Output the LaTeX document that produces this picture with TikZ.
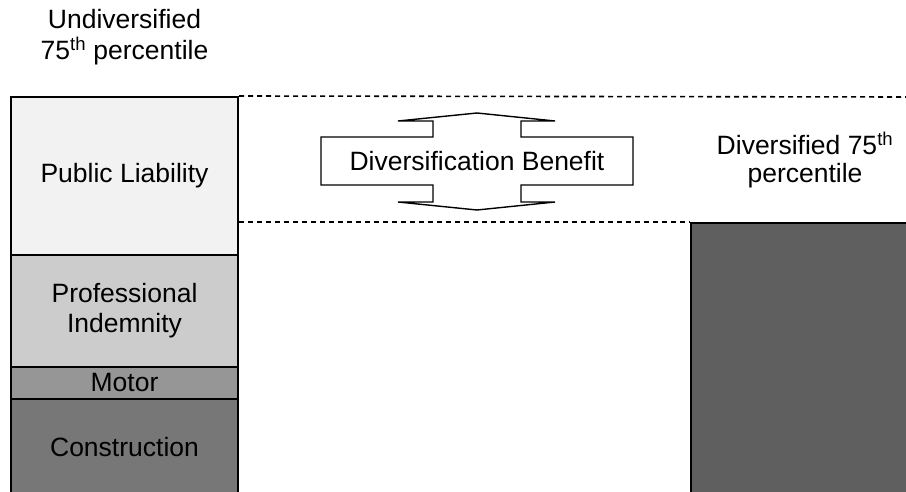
\documentclass[tikz,border=0pt]{standalone}
\usepackage{fontspec}
\setmainfont{Liberation Sans}
\begin{document}
\begin{tikzpicture}[x=1pt,y=-1pt,
  txt/.style={font=\fontsize{26.5}{30}\selectfont, inner sep=0pt},
  seg/.style={draw=black, line width=2pt, minimum width=227pt, inner sep=0pt, align=center,
              font=\fontsize{26.5}{30}\selectfont},
  guide/.style={line width=1.6pt, dash pattern=on 5pt off 4pt},
  benefit/.style={draw=black, fill=white, line width=1.4pt, line join=miter}]
\definecolor{plc}{HTML}{F2F2F2}
\definecolor{pic}{HTML}{CCCCCC}
\definecolor{moc}{HTML}{969696}
\definecolor{coc}{HTML}{777777}
\definecolor{dic}{HTML}{5F5F5F}
\clip (0,0) rectangle (906,492);
\useasboundingbox (0,0) rectangle (906,492);
\fill[white] (0,0) rectangle (906,492);

% left stacked bar
\node[seg, fill=plc, minimum height=158pt] (pl) at (124.5,176) {Public Liability};
\node[seg, fill=pic, minimum height=112pt] (pi) at (124.5,311) {Professional\\Indemnity};
\node[seg, fill=moc, minimum height=32pt] (mo) at (124.5,383) {Motor};
\node[seg, fill=coc, minimum height=96pt] (co) at (124.5,447) {Construction};

% right bar
\node[draw=black, fill=dic, line width=2pt, minimum width=219pt, minimum height=272pt, inner sep=0pt] (di) at (800.5,359) {};

% titles
\node[txt, anchor=base] (t1) at (124.5,29) {Undiversified};
\node[txt, anchor=base] (t2) at (124.5,60) {75\textsuperscript{th} percentile};
\node[txt, anchor=base] (t3) at (805,155) {Diversified 75\textsuperscript{th}};
\node[txt, anchor=base] (t4) at (805,183) {percentile};

% dashed guides
\coordinate (topend) at (906,97);
\coordinate (lowstart) at (pl.east |- di.north);
\draw[guide] (pl.north east) -- (topend);
\draw[guide] (lowstart) -- (di.north west);

% diversification benefit double arrow
\draw[benefit] (321,137) -- (433,137) -- (433,121) -- (398,121) -- (477,113) -- (555,121)
  -- (521,121) -- (521,137) -- (633,137) -- (633,185) -- (521,185) -- (521,202)
  -- (555,202) -- (477,210) -- (398,202) -- (433,202) -- (433,185) -- (321,185) -- cycle;
\node[txt] (db) at (477,161) {Diversification Benefit};
\end{tikzpicture}
\end{document}
